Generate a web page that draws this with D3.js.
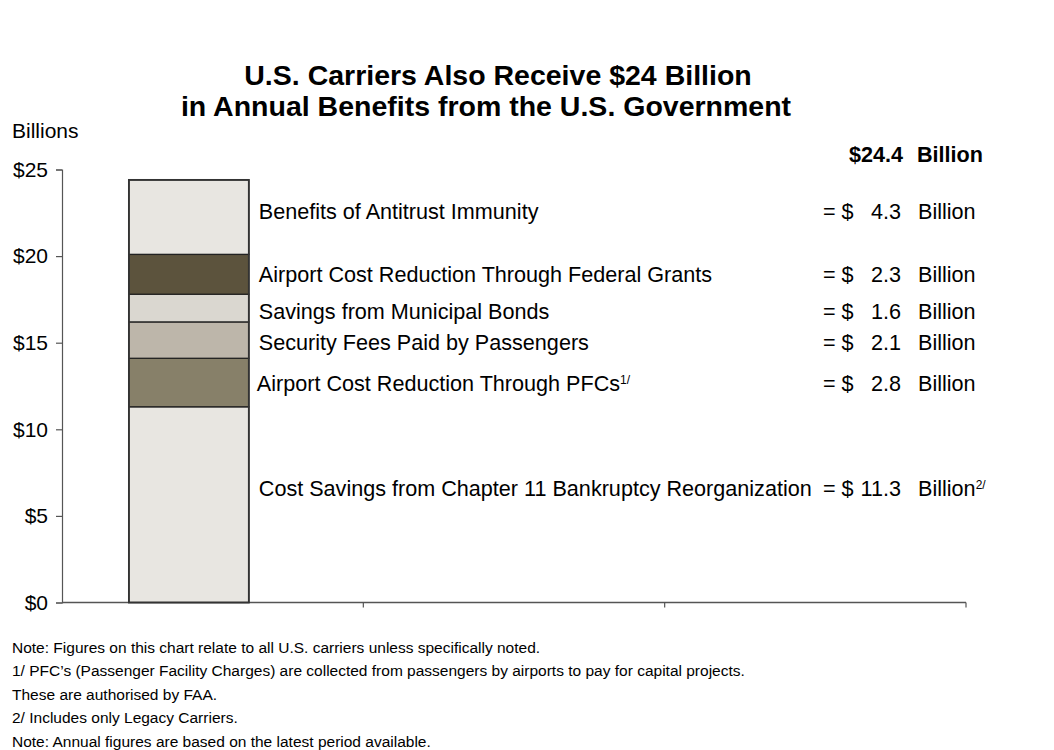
<!DOCTYPE html>
<html>
<head>
<meta charset="utf-8">
<script src="https://cdn.jsdelivr.net/npm/d3@7"></script>
<style>
  html, body { margin: 0; padding: 0; background: #ffffff; }
  svg { display: block; font-family: "Liberation Sans", Arial, Helvetica, sans-serif; }
</style>
</head>
<body>
<svg id="chart" width="1054" height="750"></svg>
<script>
// Components of annual U.S. government benefits to carriers, bottom to top (billions of dollars)
const components = [
  "Cost Savings from Chapter 11 Bankruptcy Reorganization",
  "Airport Cost Reduction Through PFCs",
  "Security Fees Paid by Passengers",
  "Savings from Municipal Bonds",
  "Airport Cost Reduction Through Federal Grants",
  "Benefits of Antitrust Immunity"
];
const values = [11.3, 2.8, 2.1, 1.6, 2.3, 4.3];
const superscripts = ["", "1/", "", "", "", ""];
const valueNotes = ["2/", "", "", "", "", ""];
const fills = ["#e8e6e1", "#878069", "#bdb6aa", "#dad7d0", "#5c533d", "#e8e6e1"];
const total = 24.4;

// Category slots along the x axis (only the first holds a bar)
const categories = ["All U.S. Carriers", "Slot 2", "Slot 3"];

// Y axis ticks
const yTicks = [0, 5, 10, 15, 20, 25];

const titleLines = [
  "U.S. Carriers Also Receive $24 Billion",
  "in Annual Benefits from the U.S. Government"
];
const notes = [
  "Note: Figures on this chart relate to all U.S. carriers unless specifically noted.",
  "1/ PFC\u2019s (Passenger Facility Charges) are collected from passengers by airports to pay for capital projects.",
  "These are authorised by FAA.",
  "2/ Includes only Legacy Carriers.",
  "Note: Annual figures are based on the latest period available."
];

// ---- layout ----
const plot = { left: 62, right: 966, top: 169.5, bottom: 602.5 };
// vertical placement of each component's label, in axis units
const labelAt = [6.55, 12.62, 14.98, 16.77, 18.91, 22.55];

const svg = d3.select("#chart");

const y = d3.scaleLinear().domain([0, 25]).range([plot.bottom, plot.top]);
const x = d3.scaleBand().domain(categories).range([plot.left, plot.right]).padding(0);

// stacked segments
let acc = 0;
const segments = values.map((v, i) => {
  const s = { name: components[i], v, y0: acc, y1: acc + v, fill: fills[i], i };
  acc += v;
  return s;
});

// title
svg.append("g").selectAll("text").data(titleLines).join("text")
  .attr("x", (d, i) => i === 0 ? 498 : 486)
  .attr("y", (d, i) => 85 + i * 30.5)
  .attr("text-anchor", "middle")
  .attr("font-size", 28.5)
  .attr("font-weight", "bold")
  .attr("fill", "#000")
  .text(d => d);

// unit label
svg.append("text")
  .attr("x", 12).attr("y", 138)
  .attr("font-size", 21)
  .attr("fill", "#000")
  .text("Billions");

// y axis
const yAxis = svg.append("g")
  .attr("transform", `translate(${plot.left},0)`)
  .call(d3.axisLeft(y).tickValues(yTicks).tickSize(6).tickPadding(8).tickFormat(d => "$" + d));
yAxis.select(".domain").attr("stroke", "#555").attr("stroke-width", 1.2);
yAxis.selectAll(".tick line").attr("stroke", "#555").attr("stroke-width", 1.2);
yAxis.selectAll(".tick text")
  .attr("font-size", 21)
  .attr("font-family", "\"Liberation Sans\", Arial, sans-serif")
  .attr("fill", "#000");

// x axis: plain line with boundary ticks between category slots
const xAxis = svg.append("g");
xAxis.append("line")
  .attr("x1", plot.left).attr("x2", plot.right)
  .attr("y1", y(0)).attr("y2", y(0))
  .attr("stroke", "#555").attr("stroke-width", 1.4);
xAxis.selectAll("line.tick").data(categories).join("line")
  .attr("class", "tick")
  .attr("x1", d => x(d) + x.bandwidth()).attr("x2", d => x(d) + x.bandwidth())
  .attr("y1", y(0)).attr("y2", y(0) + 5)
  .attr("stroke", "#555").attr("stroke-width", 1.2);

// stacked bar
const barX = x(categories[0]) + x.bandwidth() * 0.222;
const barW = x.bandwidth() * 0.398;
svg.append("g").selectAll("rect").data(segments).join("rect")
  .attr("x", barX)
  .attr("width", barW)
  .attr("y", d => y(d.y1))
  .attr("height", d => y(d.y0) - y(d.y1))
  .attr("fill", d => d.fill)
  .attr("stroke", "#222")
  .attr("stroke-width", 1.3);
// outer frame
svg.append("rect")
  .attr("x", barX).attr("width", barW)
  .attr("y", y(total)).attr("height", y(0) - y(total))
  .attr("fill", "none").attr("stroke", "#333").attr("stroke-width", 1.8);

// component labels and values
const labels = svg.append("g").attr("font-size", 21.6).attr("fill", "#000");
segments.forEach((s, i) => {
  const ly = y(labelAt[i]) + 7;
  const t = labels.append("text")
    .attr("x", barX + barW + (superscripts[i] ? 8 : 10))
    .attr("y", ly)
    .text(s.name);
  if (superscripts[i]) {
    t.append("tspan").attr("dy", -7).attr("font-size", 12).text(superscripts[i]);
  }
  labels.append("text").attr("x", 823).attr("y", ly).text("= $");
  labels.append("text").attr("x", 901).attr("y", ly).attr("text-anchor", "end")
    .text(d3.format(".1f")(s.v));
  const b = labels.append("text").attr("x", 918).attr("y", ly).text("Billion");
  if (valueNotes[i]) {
    b.append("tspan").attr("dy", -7).attr("font-size", 12).text(valueNotes[i]);
  }
});

// total
const totalRow = svg.append("g").attr("font-size", 21.6).attr("font-weight", "bold").attr("fill", "#000");
totalRow.append("text").attr("x", 903).attr("y", 162).attr("text-anchor", "end")
  .text("$" + d3.format(".1f")(total));
totalRow.append("text").attr("x", 917).attr("y", 162).text("Billion");

// footnotes
svg.append("g").selectAll("text").data(notes).join("text")
  .attr("x", 12)
  .attr("y", (d, i) => 653 + i * 23.4)
  .attr("font-size", 15.5)
  .attr("fill", "#000")
  .text(d => d);
</script>
</body>
</html>
